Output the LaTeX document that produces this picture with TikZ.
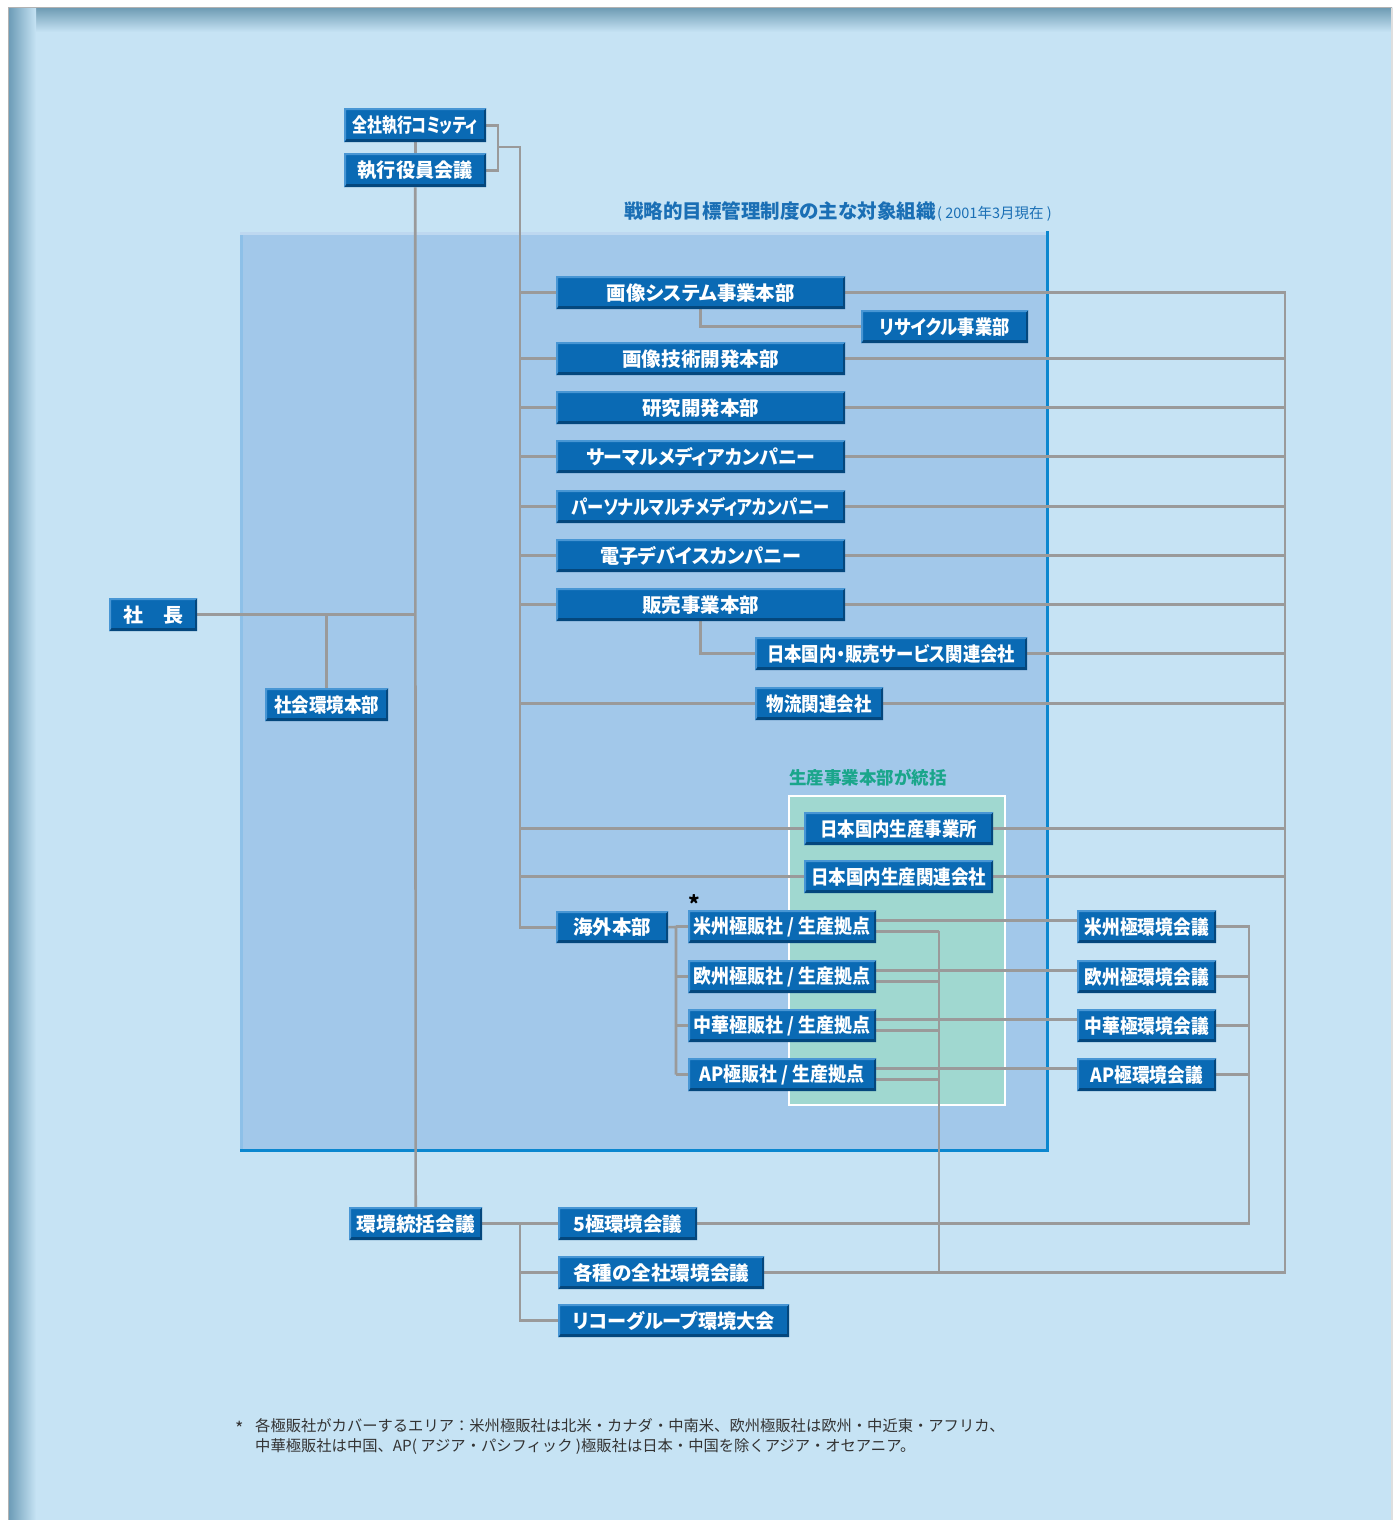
\documentclass[tikz,border=0pt]{standalone}
\usepackage{fontspec}
\usepackage{graphicx}
\setmainfont[RawFeature=+palt]{Noto Sans CJK JP}
\newfontfamily\plainjp{Noto Sans CJK JP}
\definecolor{bgblue}{HTML}{C6E3F4}
\definecolor{topshade}{HTML}{6F9CB4}
\definecolor{leftshade}{HTML}{6A9AB5}
\definecolor{innerblue}{HTML}{A2C8EA}
\definecolor{inneredge}{HTML}{0B87CF}
\definecolor{innerleft}{HTML}{8DC0E8}
\definecolor{greenbox}{HTML}{A0D8D0}
\definecolor{boxblue}{HTML}{0A6AB4}
\definecolor{boxlight}{HTML}{4896D4}
\definecolor{boxdark}{HTML}{04477D}
\definecolor{linegray}{HTML}{9A9A9A}
\definecolor{titleblue}{HTML}{1A6FB5}
\definecolor{labelgreen}{HTML}{1AA68B}
\definecolor{notegray}{HTML}{333333}
\pgfdeclarelayer{bg}
\pgfdeclarelayer{lines}
\pgfsetlayers{bg,lines,main}
\tikzset{
  bx/.style={fill=boxblue, text=white, inner sep=0pt, font=\fontsize{19.5}{19.5}\selectfont\bfseries,
    path picture={
      \coordinate (ppsw) at (path picture bounding box.south west);
      \coordinate (ppne) at (path picture bounding box.north east);
      \coordinate (ppnw) at (path picture bounding box.north west);
      \coordinate (ppse) at (path picture bounding box.south east);
      \fill[boxdark] (ppsw) -- (ppse) -- (ppne) -- ([shift={(-2pt,-2pt)}]ppne) -- ([shift={(-2pt,3pt)}]ppse) -- ([shift={(2pt,3pt)}]ppsw) -- cycle;
      \fill[boxlight] (ppsw) -- (ppnw) -- (ppne) -- ([shift={(-2pt,-2pt)}]ppne) -- ([shift={(2pt,-2pt)}]ppnw) -- ([shift={(2pt,3pt)}]ppsw) -- cycle;
    }},
  ln/.style={draw=linegray, line width=2.6pt},
  note/.style={anchor=west, inner sep=0pt, text=notegray, font=\plainjp\fontsize{15.3}{15.3}\selectfont},
}
\newlength\fitlen
\newcommand\fitto[2]{\settowidth\fitlen{#2}\pgfmathsetmacro\fitsc{#1/\fitlen}\scalebox{\fitsc}[1]{#2}}
\newcommand\orgbox[7]{\node[bx, minimum width=#4pt-#2pt, minimum height=#5pt-#3pt, anchor=north west] (#1) at (#2,#3) {\fitto{#6}{#7}};}
\begin{document}
\begin{tikzpicture}[x=1pt,y=-1pt]
\useasboundingbox (0,0) rectangle (1399,1520);
\begin{pgfonlayer}{bg}
% background
\fill[white] (0,0) rectangle (1399,1520);
\fill[bgblue] (8,8) rectangle (1392,1520);
\shade[top color=topshade, bottom color=bgblue] (8,8) rectangle (1392,32);
\shade[left color=leftshade, right color=bgblue] (8,8) rectangle (36,1520);
\draw[color=gray!60, line width=1pt] (8,1520) -- (8,8) -- (1392,8);
\draw[color=gray!25, line width=1.5pt] (1392,8) -- (1392,1520);
% inner region
\fill[innerblue] (240,232) rectangle (1048,1151);
\fill[innerleft] (240,232) rectangle (243,1151);
\fill[innerblue!70!white] (240,232) rectangle (1048,235);
\draw[inneredge, line width=3pt] (1047,231) -- (1047,1150.5) -- (240,1150.5);
% green area
\fill[greenbox, draw=white, line width=2.2pt] (789,796) rectangle (1005,1105);
\end{pgfonlayer}
% titles
\node[anchor=west, text=titleblue, inner sep=0pt] (title) at (624,211)
  {{\fontsize{19.5}{19.5}\selectfont\bfseries 戦略的目標管理制度の主な対象組織}\,{\fontsize{14.5}{14.5}\selectfont ( 2001年3月現在 )}};
\node[anchor=west, text=labelgreen, inner sep=0pt, font=\fontsize{17.5}{17.5}\selectfont\bfseries] (glabel) at (789,778) {生産事業本部が統括};
% boxes
\orgbox{zensha}{344}{108}{486}{142}{125}{全社執行コミッティ}
\orgbox{shikko}{344}{153}{486}{187}{115}{執行役員会議}
\orgbox{shacho}{109}{598}{197}{631}{60}{社　長}
\orgbox{shakai}{265}{688}{388}{721}{105}{社会環境本部}
\orgbox{gazo}{556}{276}{845}{309}{188}{画像システム事業本部}
\orgbox{recycle}{861}{310}{1028}{343}{130}{リサイクル事業部}
\orgbox{gijutsu}{556}{342}{845}{375}{157}{画像技術開発本部}
\orgbox{kenkyu}{556}{391}{845}{424}{117}{研究開発本部}
\orgbox{thermal}{556}{440}{845}{473}{229}{サーマルメディアカンパニー}
\orgbox{personal}{556}{490}{845}{523}{258}{パーソナルマルチメディアカンパニー}
\orgbox{denshi}{556}{539}{845}{572}{201}{電子デバイスカンパニー}
\orgbox{hanbai}{556}{588}{845}{621}{117}{販売事業本部}
\orgbox{kokunai}{755}{637}{1027}{670}{248}{日本国内・販売サービス関連会社}
\orgbox{butsuryu}{755}{687}{883}{720}{105}{物流関連会社}
\orgbox{seisan}{804}{812}{993}{845}{157}{日本国内生産事業所}
\orgbox{seisankanren}{804}{860}{993}{893}{175}{日本国内生産関連会社}
\orgbox{kaigai}{556}{911}{668}{943}{78}{海外本部}
\orgbox{beishu}{688}{910}{876}{943}{177}{米州極販社 / 生産拠点}
\orgbox{oshu}{688}{960}{876}{993}{177}{欧州極販社 / 生産拠点}
\orgbox{chuka}{688}{1009}{876}{1042}{177}{中華極販社 / 生産拠点}
\orgbox{apk}{688}{1058}{876}{1091}{165}{AP極販社 / 生産拠点}
\orgbox{beikan}{1077}{910}{1216}{943}{124}{米州極環境会議}
\orgbox{okan}{1077}{960}{1216}{993}{124}{欧州極環境会議}
\orgbox{chukan}{1077}{1009}{1216}{1042}{124}{中華極環境会議}
\orgbox{apkan}{1077}{1058}{1216}{1091}{112}{AP極環境会議}
\orgbox{tokatsu}{349}{1207}{482}{1240}{118}{環境統括会議}
\orgbox{goku}{558}{1207}{697}{1240}{109}{5極環境会議}
\orgbox{kakushu}{558}{1256}{764}{1289}{176}{各種の全社環境会議}
\orgbox{ricoh}{558}{1304}{789}{1337}{202}{リコーグループ環境大会}
% coordinates
\coordinate (ja) at (498,147);
\coordinate (sp0) at (520,147);
\coordinate (rs) at (1285,293);
\coordinate (kv) at (676,927);
\coordinate (gv) at (939,931);
\coordinate (ev) at (1249,925);
\coordinate (tv) at (520,1223);
\begin{pgfonlayer}{lines}
% executive
\draw[ln] (zensha.south) -- (shikko.north);
\draw[ln] (zensha.east) -| (ja) |- (shikko.east);
\draw[ln] (ja) -- (sp0) |- (kaigai.west);
\foreach \n in {gazo,gijutsu,kenkyu,thermal,personal,denshi,hanbai,butsuryu,seisan,seisankanren}
  \draw[ln] (sp0 |- \n.west) -- (\n.west);
\draw[ln] (shikko.south) -- (tokatsu.north);
\draw[ln] (shacho.east) -- (shacho.east -| shikko.south);
\draw[ln] (shakai.north) -- (shakai.north |- shacho.east);
\draw[ln] (gazo.south) |- (recycle.west);
\draw[ln] (hanbai.south) |- (kokunai.west);
% right spine
\draw[ln] (gazo.east) -| (rs |- kakushu.east) -- (kakushu.east);
\foreach \n in {gijutsu,kenkyu,thermal,personal,denshi,hanbai,kokunai,butsuryu,seisan,seisankanren}
  \draw[ln] (\n.east) -- (\n.east -| rs);
% overseas
\draw[ln] (kaigai.east) -- (kv) -- (kv |- apk.west);
\foreach \n in {beishu,oshu,chuka,apk}
  \draw[ln] (kv |- \n.west) -- (\n.west);
\foreach \n/\m in {beishu/beikan,oshu/okan,chuka/chukan,apk/apkan}{
  \draw[ln] ([yshift=6.5pt]\n.east) -- ([yshift=6.5pt]\n.east -| \m.west);
  \draw[ln] ([yshift=-4.5pt]\n.east) -- ([yshift=-4.5pt]\n.east -| gv);
  \draw[ln] (\m.east) -- (\m.east -| ev);
}
\draw[ln] (gv) -- (gv |- kakushu.east);
\draw[ln] (ev) -- (ev |- goku.east) -- (goku.east);
% environment committees
\draw[ln] (tokatsu.east) -- (goku.west);
\draw[ln] (tv) |- (ricoh.west);
\draw[ln] (tv |- kakushu.west) -- (kakushu.west);
\end{pgfonlayer}
% asterisk and footnote
\node[inner sep=0pt, text=black, font=\fontsize{22}{22}\selectfont\bfseries] (ast) at (694,904) {*};
\node[note, font=\plainjp\fontsize{18}{18}\selectfont] (nstar) at (235,1428) {*};
\node[note] (note1) at (255,1426) {各極販社がカバーするエリア：米州極販社は北米・カナダ・中南米、欧州極販社は欧州・中近東・アフリカ、};
\node[note] (note2) at (255,1447) {中華極販社は中国、AP( アジア・パシフィック )極販社は日本・中国を除くアジア・オセアニア。};
\end{tikzpicture}
\end{document}
